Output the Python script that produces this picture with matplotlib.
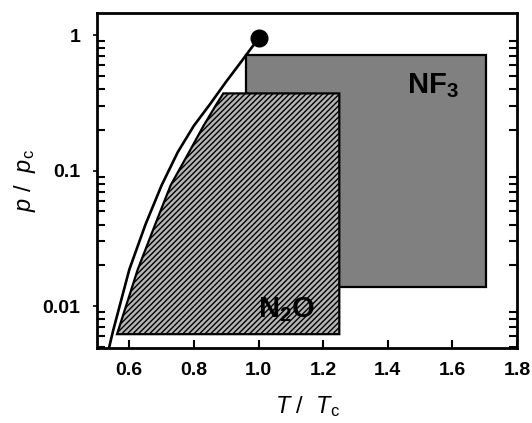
import numpy as np
import matplotlib
matplotlib.use("Agg")
import matplotlib.pyplot as plt
from matplotlib.patches import Polygon, Rectangle
from matplotlib.ticker import LogLocator, FuncFormatter, NullFormatter

plt.rcParams['font.family'] = 'Liberation Sans'
plt.rcParams['mathtext.fontset'] = 'custom'
plt.rcParams['mathtext.rm'] = 'Liberation Sans'
plt.rcParams['mathtext.it'] = 'Liberation Sans:italic'
plt.rcParams['mathtext.bf'] = 'Liberation Sans:bold'
plt.rcParams['hatch.linewidth'] = 1.0

############################################################
# vapour pressure curve (reduced units), ends at critical point
curve_T = [0.52, 0.55, 0.60, 0.65, 0.70, 0.75, 0.80, 0.85, 0.90, 0.95, 1.0]
curve_p = [0.0033, 0.0066, 0.0186, 0.040, 0.078, 0.137, 0.215, 0.31, 0.455, 0.655, 0.95]
crit_T = [1.0]
crit_p = [0.95]

# NF3 region (rectangle)
nf3_T = [0.962, 1.703]
nf3_p = [0.0138, 0.71]

# N2O region (polygon, left edge runs alongside the curve)
n2o_T = [0.562, 0.626, 0.680, 0.728, 0.785, 0.830, 0.870, 0.891, 1.25, 1.25]
n2o_p = [0.0062, 0.0186, 0.040, 0.078, 0.137, 0.215, 0.31, 0.372, 0.372, 0.0062]

xticks = [0.6, 0.8, 1.0, 1.2, 1.4, 1.6, 1.8]

############################################################
fig = plt.figure(figsize=(5.32, 4.23), dpi=100)
ax = fig.add_axes([97/532, 75/423, 420/532, 335/423])

ax.add_patch(Rectangle((nf3_T[0], nf3_p[0]), nf3_T[1]-nf3_T[0], nf3_p[1]-nf3_p[0],
                       facecolor='#808080', edgecolor='black', linewidth=1.6, zorder=2))
ax.add_patch(Polygon(np.column_stack([n2o_T, n2o_p]), closed=True,
                     facecolor='#b4b4b4', edgecolor='black', hatch='//////',
                     linewidth=1.6, zorder=3))

ax.plot(curve_T, curve_p, color='black', linewidth=1.9, zorder=4)
ax.plot(crit_T, crit_p, 'o', color='black', markersize=12, zorder=5)

ax.text(1.461, 0.372, r'$\mathbf{NF_3}$', fontsize=21, ha='left', va='baseline', zorder=6)
ax.text(0.999, 0.0083, r'$\mathbf{N_2O}$', fontsize=21, ha='left', va='baseline', zorder=6)

ax.set_yscale('log')
ax.set_xlim(0.5, 1.8)
ax.set_ylim(0.0049, 1.46)

ax.set_xticks(xticks)
ax.set_xticklabels(['%.1f' % t for t in xticks])
ax.yaxis.set_major_locator(LogLocator(base=10, numticks=10))
ax.yaxis.set_major_formatter(FuncFormatter(lambda v, pos: '%g' % v))
ax.yaxis.set_minor_locator(LogLocator(base=10, subs=np.arange(2, 10), numticks=10))
ax.yaxis.set_minor_formatter(NullFormatter())

ax.tick_params(axis='x', which='major', direction='in', length=6, width=1.5,
               top=False, bottom=True, labelsize=14, pad=10)
ax.tick_params(axis='y', which='major', direction='out', length=3, width=1.2,
               left=True, right=False, labelsize=14, pad=9)
ax.tick_params(axis='y', which='minor', direction='in', length=6, width=1.5,
               left=True, right=True)
for lbl in ax.get_xticklabels() + ax.get_yticklabels():
    lbl.set_fontweight('bold')

for s in ax.spines.values():
    s.set_linewidth(2)

ax.set_xlabel(r'$T\ /\ \ T_{\rm c}$', fontsize=17, labelpad=11)
ax.set_ylabel(r'$p\ /\ \ p_{\rm c}$', fontsize=17, labelpad=3)

fig.savefig('out.png', dpi=100)
